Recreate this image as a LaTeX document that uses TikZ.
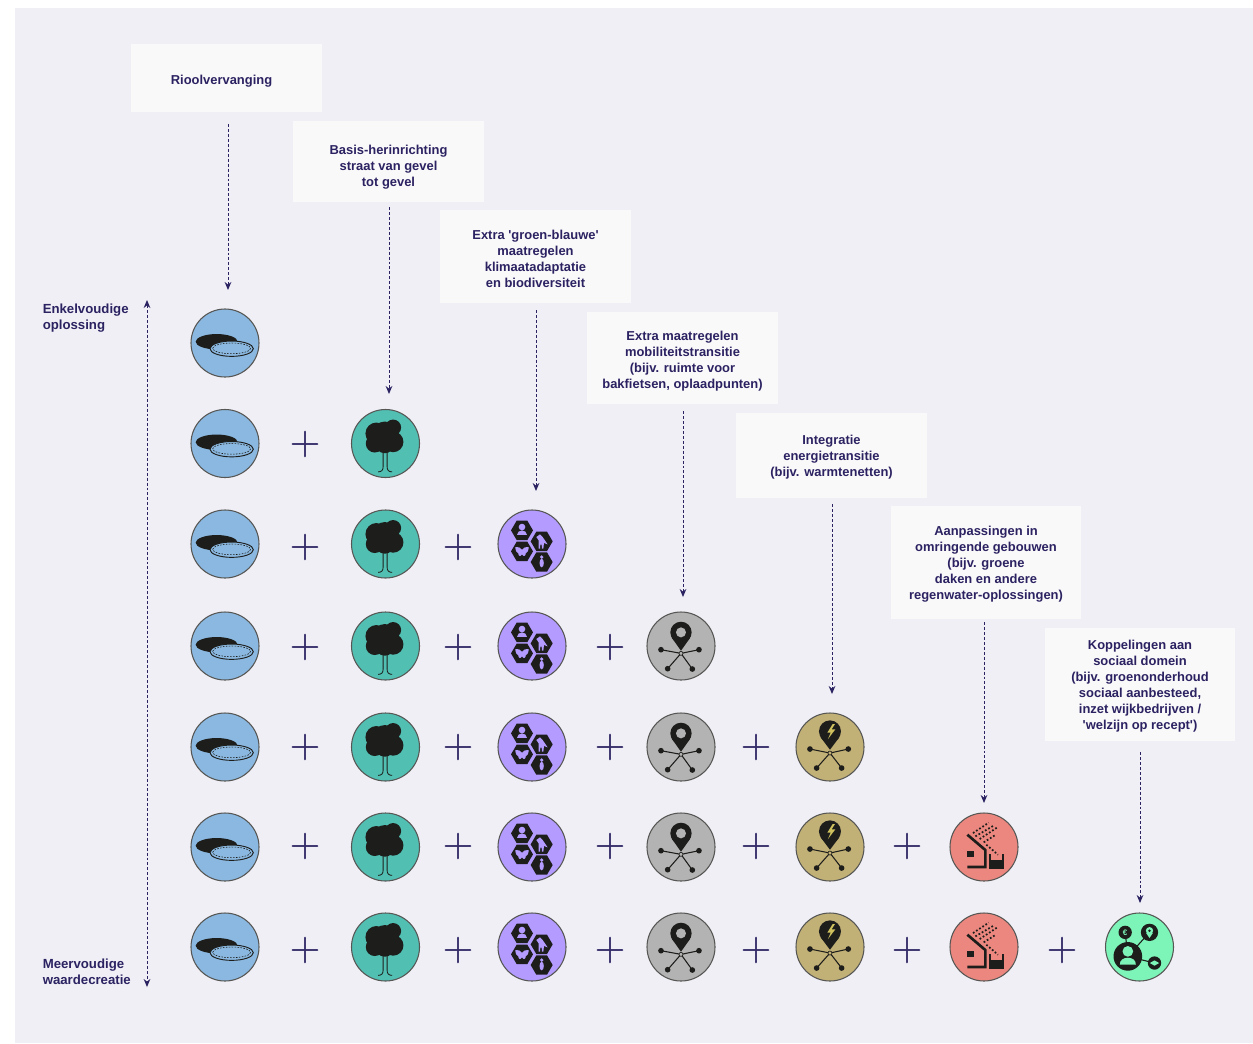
\documentclass[tikz,border=0pt]{standalone}
\usepackage{fontspec}
\setmainfont{Liberation Sans}
\newfontfamily\plusfont[FakeBold=1.2]{Latin Modern Roman}
\usetikzlibrary{arrows.meta}
\definecolor{ink}{HTML}{1D1D1B}
\definecolor{navy}{HTML}{2B2262}
\definecolor{panel}{HTML}{EFEFF5}
\definecolor{boxfill}{HTML}{F9F9F9}
\definecolor{cblue}{HTML}{8AB8E0}
\definecolor{cteal}{HTML}{52BFB3}
\definecolor{cpurple}{HTML}{B39BFF}
\definecolor{cgray}{HTML}{B3B3B3}
\definecolor{ckhaki}{HTML}{C2B176}
\definecolor{csalmon}{HTML}{EC877F}
\definecolor{cgreen}{HTML}{7DF5B8}
\newcommand{\lift}[1]{\rule{0pt}{#1}}
\tikzset{
  x=0.75pt,y=-0.75pt,
  coin/.style={circle,draw=ink!75,line width=0.8pt,minimum size=51pt,inner sep=0pt,outer sep=0pt},
  labelbox/.style={fill=boxfill,draw=none,minimum width=143pt,align=center,inner sep=0pt,text=navy,
    font=\fontsize{9.7}{12}\selectfont\bfseries},
  sidelabel/.style={anchor=west,align=left,inner sep=0pt,text=navy,font=\fontsize{9.9}{12}\selectfont\bfseries},
  plusmark/.style={text=navy,inner sep=0pt,font=\plusfont\fontsize{31}{31}\selectfont},
  flow/.style={draw=navy,line width=0.75pt,dash pattern=on 2.2pt off 1.5pt,-{Stealth[length=6pt,width=5pt]}},
  flowboth/.style={draw=navy,line width=0.75pt,dash pattern=on 2.2pt off 1.5pt,{Stealth[length=6pt,width=5pt]}-{Stealth[length=6pt,width=5pt]}},
  spoke/.style={draw=ink,line width=0.8pt},
  manhole/.pic={
    \begin{scope}[shift={(-45,-43.3)},scale=0.3333]
      \fill[ink] (110,126) ellipse[x radius=63,y radius=23];
      \draw[ink,fill=cblue,line width=0.7pt] (155,147) ellipse[x radius=65,y radius=23];
      \draw[ink,line width=0.45pt,dash pattern=on 1.2pt off 1pt] (155,146) ellipse[x radius=57,y radius=16];
    \end{scope}},
  treeicon/.pic={
    \begin{scope}[shift={(-205.7,-43.3)},scale=0.3333]
      \fill[ink] (640,82) circle[radius=24] (590,100) circle[radius=33] (640,125) circle[radius=31]
        (585,130) circle[radius=27] (615,130) circle[radius=29] (615,100) circle[radius=36];
      \draw[ink,line width=0.6pt] (610,150) -- (610,200) .. controls (610,210) and (605,215) .. (595,215);
      \draw[ink,line width=0.6pt] (622,150) -- (622,200) .. controls (622,210) and (627,215) .. (637,215);
    \end{scope}},
  hexes/.pic={
    \begin{scope}[shift={(-42,-45.3)},scale=0.3333]
      \foreach \hx/\hy in {96/95,155/128,96/158,155/190}
        \fill[ink] ({\hx-33},\hy) -- ({\hx-16},{\hy-29}) -- ({\hx+16},{\hy-29}) -- ({\hx+33},\hy) -- ({\hx+16},{\hy+29}) -- ({\hx-16},{\hy+29}) -- cycle;
      \fill[cpurple] (96,85) circle[radius=10];
      \fill[cpurple] (80,110) .. controls (80,90) and (112,90) .. (112,110) -- cycle;
      \fill[cpurple] (139,115) -- (150,107) -- (158,115) -- (173,137) -- (162,133) -- (160,150) -- (156,150) -- (155,138) -- (151,138) -- (150,150) -- (146,150) -- (146,125) -- cycle;
      \fill[cpurple] (76,145) .. controls (84,142) and (92,148) .. (96,153) .. controls (100,148) and (108,142) .. (116,145)
        .. controls (116,156) and (112,162) .. (107,164) .. controls (108,172) and (100,175) .. (96,167)
        .. controls (92,175) and (84,172) .. (85,164) .. controls (80,162) and (76,156) .. (76,145) -- cycle;
      \fill[cpurple] (155,175) circle[radius=5.5] (155,193) ellipse[x radius=6.5,y radius=13];
    \end{scope}},
  pinnet/.pic={
    \begin{scope}[shift={(-192,-45.3)},scale=0.3333]
      \draw[spoke] (576,158) -- (516,147) (576,158) -- (630,147) (576,158) -- (536,204) (576,158) -- (610,205);
      \fill[ink] (576,95) circle[radius=32];
      \fill[ink] (549,112) -- (576,150) -- (603,112) -- cycle;
      \fill[cgray] (576,95) circle[radius=15];
      \fill[ink] (516,147) circle[radius=8.5] (630,147) circle[radius=8.5] (536,204) circle[radius=8.5] (610,205) circle[radius=8.5];
      \draw[ink,fill=cgray,line width=0.5pt] (576,158) circle[radius=6];
    \end{scope}},
  energynet/.pic={
    \begin{scope}[shift={(-46.7,-42.3)},scale=0.3333]
      \draw[spoke] (140,145) -- (80,133) (140,145) -- (195,133) (140,145) -- (100,190) (140,145) -- (175,190);
      \fill[ink] (140,80) circle[radius=33];
      \fill[ink] (112,98) -- (140,135) -- (168,98) -- cycle;
      \fill[ckhaki!80!yellow] (148,58) -- (132,84) -- (142,84) -- (134,103) -- (156,74) -- (145,74) -- (155,58) -- cycle;
      \fill[ink] (80,133) circle[radius=8.5] (195,133) circle[radius=8.5] (100,190) circle[radius=8.5] (175,190) circle[radius=8.5];
      \draw[ink,fill=ckhaki,line width=0.5pt] (140,145) circle[radius=6];
    \end{scope}},
  rainhouse/.pic={
    \begin{scope}[shift={(-199.3,-42.3)},scale=0.3333]
      \draw[ink,line width=2pt] (548,90) -- (602,136) -- (602,187) -- (548,187);
      \fill[ink] (548,138) rectangle (568,158);
      \draw[ink,line width=1.2pt] (616,148) -- (616,190) -- (655,190) -- (655,148);
      \fill[ink] (616,165) rectangle (655,190);
      \draw[ink,line width=1.3pt,dash pattern=on 1.3pt off 1.5pt]
        (565,85) -- (612,54) (572,95) -- (628,62) (585,103) -- (638,68) (597,113) -- (630,92) (605,120) -- (640,150);
    \end{scope}},
  socialnet/.pic={
    \begin{scope}[shift={(-45,-62.3)},scale=0.3333]
      \draw[ink,line width=0.8pt] (100,215) -- (92,143) (100,215) -- (165,143) (100,215) -- (180,235);
      \fill[ink] (100,215) circle[radius=43] (92,143) circle[radius=20] (165,143) circle[radius=26] (180,235) circle[radius=20];
      \fill[cgreen] (100,200) circle[radius=16];
      \fill[cgreen] (76,240) .. controls (74,212) and (126,212) .. (124,240) -- cycle;
      \fill[cgreen] (165,138) circle[radius=11];
      \fill[cgreen] (155,145) -- (165,160) -- (175,145) -- cycle;
      \fill[ink] (165,138) circle[radius=4];
      \fill[cgreen] (166,235) -- (180,227) -- (194,235) -- (180,243) -- cycle;
      \node[text=cgreen,inner sep=0pt,font=\fontsize{6}{6}\selectfont\bfseries] (euro) at (92,143) {€};
    \end{scope}}
}
\begin{document}
\begin{tikzpicture}
\useasboundingbox (0,0) rectangle (1253,1043);
\fill[panel] (15,8) rectangle (1253,1043);

% column by column: rows hold as many coins as their number
\foreach \r/\ry/\py in {1/343/343,2/443.5/444,3/544/547,4/646/647,5/747/747,6/847/846,7/947/950}{
  \foreach \c/\cx/\cc/\ic/\px in {1/225/cblue/manhole/0,2/385.5/cteal/treeicon/305,3/532/cpurple/hexes/458,4/681/cgray/pinnet/610,5/830/ckhaki/energynet/756,6/984/csalmon/rainhouse/907,7/1139.5/cgreen/socialnet/1062}{
    \ifnum\c>\r\relax\else
      \node[coin,fill=\cc] (c-\r-\c) at (\cx,\ry) {};
      \pic at (\cx,\ry) {\ic};
      \ifnum\c>1\relax
        \node[plusmark] (p-\r-\c) at (\px,\py) {+};
      \fi
    \fi
  }
}

\node[labelbox,minimum height=51pt] (b1) at (226.5,78) {\lift{11.8pt}Rioolvervanging\hspace{7.5pt}};
\node[labelbox,minimum height=60.75pt] (b2) at (388.5,161.5) {\lift{14.8pt}Basis-herinrichting\\straat van gevel\\tot gevel};
\node[labelbox,minimum height=69.75pt] (b3) at (535.5,256.5) {\lift{10.3pt}Extra \textquotesingle groen-blauwe\textquotesingle\\maatregelen\\klimaatadaptatie\\en biodiversiteit};
\node[labelbox,minimum height=69pt] (b4) at (682.5,358) {\lift{11.8pt}Extra maatregelen\\mobiliteitstransitie\\(bijv. ruimte voor\\bakfietsen, oplaadpunten)};
\node[labelbox,minimum height=63.75pt] (b5) at (831.5,455.5) {\lift{8.8pt}Integratie\\energietransitie\\(bijv. warmtenetten)};
\node[labelbox,minimum height=84.75pt] (b6) at (986,562.5) {\lift{8.8pt}Aanpassingen in\\omringende gebouwen\\(bijv. groene\\daken en andere\\regenwater-oplossingen)};
\node[labelbox,minimum height=84.75pt] (b7) at (1140,684.5) {\lift{8.8pt}Koppelingen aan\\sociaal domein\\(bijv. groenonderhoud\\sociaal aanbesteed,\\inzet wijkbedrijven /\\\textquotesingle welzijn op recept\textquotesingle)};

\draw[flow] ([shift={(1.5,12)}]b1.south) -- ([shift={(3,-19)}]c-1-1.north);
\draw[flow] ([shift={(0.5,5)}]b2.south) -- ([shift={(3.5,-15.5)}]c-2-2.north);
\draw[flow] ([shift={(0.5,7)}]b3.south) -- ([shift={(4,-19)}]c-3-3.north);
\draw[flow] ([shift={(0.5,7)}]b4.south) -- ([shift={(2,-15)}]c-4-4.north);
\draw[flow] ([shift={(0.5,6)}]b5.south) -- ([shift={(2,-19)}]c-5-5.north);
\draw[flow] ([shift={(-2,3)}]b6.south) -- ([shift={(0,-10)}]c-6-6.north);
\draw[flow] ([shift={(0,11)}]b7.south) -- ([shift={(0.5,-10)}]c-7-7.north);

\node[sidelabel] (top) at (42.5,318.5) {Enkelvoudige\\oplossing};
\node[sidelabel] (bottom) at (42.5,971.5) {Meervoudige\\waardecreatie};
\coordinate (axis-top) at (147,300);
\coordinate (axis-bottom) at (147,987);
\draw[flowboth] (axis-top) -- (axis-bottom);
\end{tikzpicture}
\end{document}
